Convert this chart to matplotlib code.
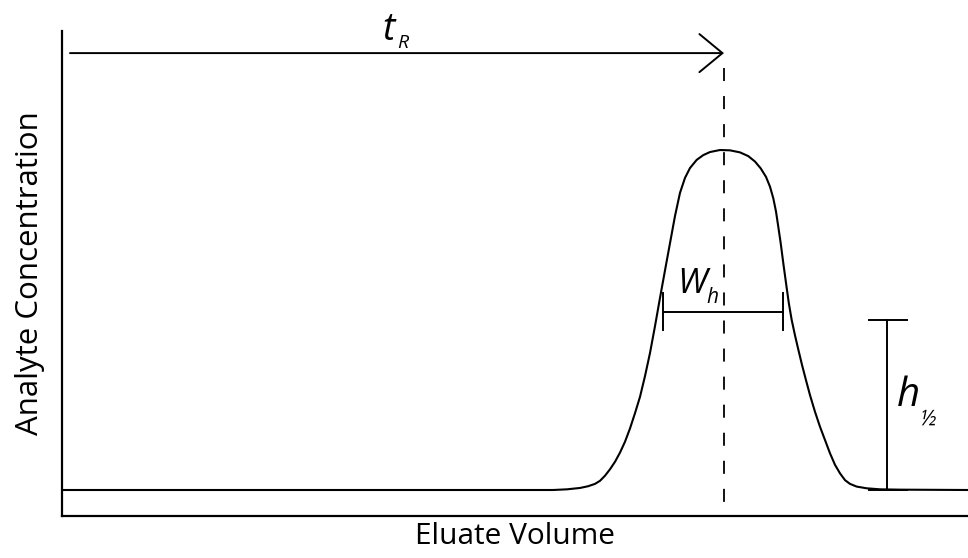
import matplotlib
matplotlib.use("Agg")
import matplotlib.pyplot as plt

plt.rcParams['font.family'] = ['Open Sans', 'DejaVu Sans']
plt.rcParams['lines.scale_dashes'] = False

# chromatogram trace: eluate volume (arb. units) vs. relative concentration
volume = [0.0, 47.8, 49.1, 50.5, 51.8, 52.6, 53.3, 53.8, 54.3, 54.8, 55.3,
          55.8, 56.3, 56.8, 57.3, 57.8, 58.3, 58.8, 59.3, 59.8, 60.3, 60.8,
          61.3, 61.8, 62.3, 62.8, 63.47, 64.13, 64.8, 65.8, 66.8, 67.8, 68.63,
          69.3, 69.87, 70.4, 70.8, 71.13, 71.4, 71.63, 71.87, 72.13, 72.4,
          72.68, 72.97, 73.29, 73.64, 74.0, 74.39, 74.8, 75.3, 75.8, 76.3,
          76.8, 77.3, 77.8, 78.3, 78.8, 79.47, 80.47, 81.8, 83.8, 90.6]
conc = [0.0, 0.0, 0.0, 0.002, 0.006, 0.011, 0.018, 0.027, 0.042, 0.061,
        0.083, 0.110, 0.142, 0.181, 0.226, 0.274, 0.335, 0.403, 0.482, 0.565,
        0.646, 0.726, 0.806, 0.874, 0.918, 0.947, 0.971, 0.985, 0.994, 1.0,
        0.999, 0.993, 0.982, 0.966, 0.946, 0.921, 0.892, 0.858, 0.819, 0.774,
        0.726, 0.667, 0.609, 0.550, 0.500, 0.456, 0.412, 0.368, 0.324, 0.279,
        0.230, 0.186, 0.147, 0.108, 0.074, 0.049, 0.029, 0.018, 0.010, 0.005,
        0.002, 0.001, 0.0]

t_start = 0.8        # injection
t_r = 66.2           # retention volume (peak maximum)
arrow_y = 1.285
w_left, w_right, w_y = 60.1, 72.1, 0.524   # width at half height
h_x, h_half = 82.5, 0.5                     # half height marker

fig = plt.figure(figsize=(9.68, 5.58), dpi=100)
ax = fig.add_axes([62 / 968, 42 / 558, 906 / 968, 485 / 558])
ax.set_xlim(0, 90.6)
ax.set_ylim(-26 / 340, 459 / 340)

ax.plot(volume, conc, color='black', lw=1.5, solid_joinstyle='round')

# retention arrow and dashed drop line
ax.annotate('', xy=(t_r, arrow_y), xytext=(t_start, arrow_y),
            arrowprops=dict(arrowstyle='->,head_length=1.66,head_width=1.37',
                            mutation_scale=10, lw=1.4, color='black',
                            shrinkA=0, shrinkB=0))
ax.plot([t_r, t_r], [1.24, -26 / 340], color='black', lw=1.3,
        linestyle=(0, (9.4, 10.8)), clip_on=False)

# peak width bar
cap = 0.054
ax.plot([w_left, w_right], [w_y, w_y], color='black', lw=1.4)
for xv in (w_left, w_right):
    ax.plot([xv, xv], [w_y - cap, w_y + cap], color='black', lw=1.4)

# half height bar
ax.plot([h_x, h_x], [0, h_half], color='black', lw=1.4)
for yv in (0, h_half):
    ax.plot([h_x - 1.8, h_x + 2.0], [yv, yv], color='black', lw=1.4)

ax.text(32.0, 1.324, 't', style='italic', fontsize=27, ha='left', va='baseline')
ax.text(33.5, 1.30, 'R', style='italic', fontsize=14, ha='left', va='baseline')
ax.text(61.5, 0.579, 'W', style='italic', fontsize=25, ha='left', va='baseline')
ax.text(64.4, 0.55, 'h', style='italic', fontsize=15, ha='left', va='baseline')
ax.text(83.5, 0.247, 'h', style='italic', fontsize=29, ha='left', va='baseline')
ax.text(85.7, 0.191, '½', style='italic', fontsize=15, ha='left', va='baseline')

for side in ('top', 'right'):
    ax.spines[side].set_visible(False)
for side in ('left', 'bottom'):
    ax.spines[side].set_linewidth(1.6)
ax.set_xticks([])
ax.set_yticks([])
ax.set_xlabel('Eluate Volume', fontsize=21.5, labelpad=4)
ax.set_ylabel('Analyte Concentration', fontsize=22.5, labelpad=12)

fig.savefig('out.png', dpi=100, facecolor='white')
